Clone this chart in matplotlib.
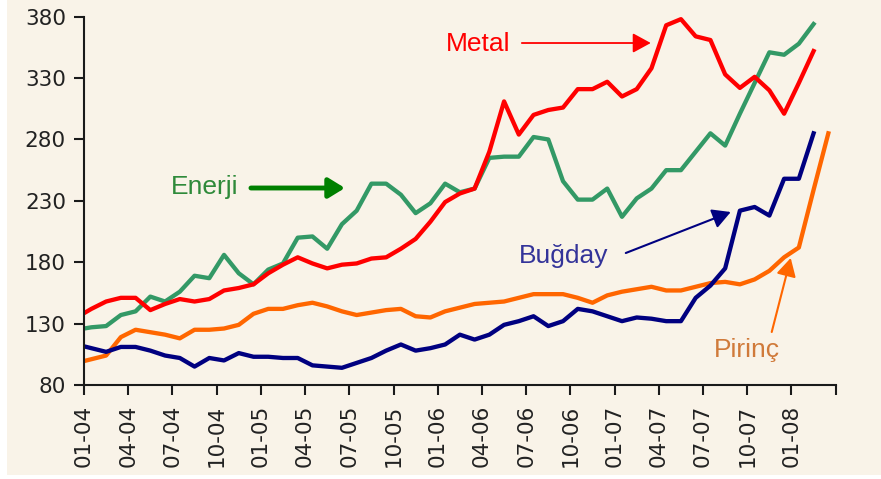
import numpy as np
import matplotlib
matplotlib.use("Agg")
import matplotlib.pyplot as plt
from matplotlib.patches import Rectangle

# monthly index values, Dec-03 ... Feb-08 (rice goes to Mar-08)
metal = [135, 142, 148, 151, 151, 141, 146, 150, 148, 150, 157, 159, 162, 171,
         178, 184, 179, 175, 178, 179, 183, 184, 191, 199, 213, 229, 236, 240,
         270, 311, 284, 300, 304, 306, 321, 321, 327, 315, 321, 338, 373, 378,
         364, 361, 333, 322, 331, 320, 301, 326, 352]
enerji = [125, 127, 128, 137, 140, 152, 148, 156, 169, 167, 186, 171, 162, 174,
          179, 200, 201, 191, 211, 222, 244, 244, 235, 220, 228, 244, 237, 240,
          265, 266, 266, 282, 280, 246, 231, 231, 240, 217, 232, 240, 255, 255,
          270, 285, 275, 301, 326, 351, 349, 358, 374]
bugday = [113, 110, 107, 111, 111, 108, 104, 102, 95, 102, 100, 106, 103, 103,
          102, 102, 96, 95, 94, 98, 102, 108, 113, 108, 110, 113, 121, 117,
          121, 129, 132, 136, 128, 132, 142, 140, 136, 132, 135, 134, 132, 132,
          151, 161, 175, 222, 225, 218, 248, 248, 285]
pirinc = [98, 101, 104, 119, 125, 123, 121, 118, 125, 125, 126, 129, 138, 142,
          142, 145, 147, 144, 140, 137, 139, 141, 142, 136, 135, 140, 143, 146,
          147, 148, 151, 154, 154, 154, 151, 147, 153, 156, 158, 160, 157, 157,
          160, 163, 164, 162, 166, 173, 184, 192, 239, 285]

tick_labels = ['01-04', '04-04', '07-04', '10-04', '01-05', '04-05', '07-05',
               '10-05', '01-06', '04-06', '07-06', '10-06', '01-07', '04-07',
               '07-07', '10-07', '01-08', '']

bg = '#f9f3e8'
fig = plt.figure(figsize=(8.81, 4.79), dpi=100, facecolor='white')
fig.patches.append(Rectangle((7 / 881, 4 / 479), 1, 1, transform=fig.transFigure,
                             facecolor=bg, edgecolor='none', zorder=-10))
ax = fig.add_axes([84 / 881, 1 - 385 / 479, 751.7 / 881, 368.3 / 479])
ax.set_facecolor(bg)

# points sit in the middle of each month, first one is Dec-03
def months(vals):
    return np.arange(len(vals)) - 0.5

ax.plot(months(pirinc), pirinc, color='#ff6600', lw=3.1, solid_joinstyle='round')
ax.plot(months(bugday), bugday, color='#000080', lw=3.1, solid_joinstyle='round')
ax.plot(months(enerji), enerji, color='#339966', lw=3.1, solid_joinstyle='round')
ax.plot(months(metal), metal, color='#ff0000', lw=3.1, solid_joinstyle='round')

ax.set_xlim(0, 3 * (len(tick_labels) - 1))
ax.set_ylim(80, 380)
ax.set_yticks(np.arange(80, 381, 50))
ax.set_xticks(np.arange(len(tick_labels)) * 3)
ax.set_xticklabels(tick_labels, rotation=90)

for s in ['top', 'right']:
    ax.spines[s].set_visible(False)
for s in ['left', 'bottom']:
    ax.spines[s].set_color('#1a1a1a')
    ax.spines[s].set_linewidth(1.5)
ax.tick_params(axis='both', direction='out', length=7, width=1.5,
               color='#1a1a1a', labelcolor='#222222', labelsize=15.5)
ax.tick_params(axis='y', pad=6)
ax.tick_params(axis='x', pad=7)

def px(x, y):
    # reference pixel position -> data coords
    return ((x - 84) / 14.745, 80 + (385 - y) / 1.2277)

lab = dict(family='Liberation Sans', fontsize=19, ha='center', va='center')
ax.text(*px(478, 44), 'Metal', color='#ff0000', **lab)
ax.annotate('', xy=px(651, 43), xytext=px(522, 43),
            arrowprops=dict(arrowstyle='-|>,head_length=0.55,head_width=0.3',
                            mutation_scale=20, color='#ff0000', lw=1.3,
                            shrinkA=0, shrinkB=0))
ax.text(*px(205, 187), 'Enerji', color='#2f8a3a', **lab)
ax.annotate('', xy=px(345, 188), xytext=px(251, 188),
            arrowprops=dict(arrowstyle='-|>,head_length=0.65,head_width=0.4',
                            mutation_scale=15, color='#008000', lw=3.5,
                            shrinkA=0, shrinkB=0))
ax.text(*px(564, 256), 'Buğday', color='#333399', **lab)
ax.annotate('', xy=px(731, 212), xytext=px(626, 253),
            arrowprops=dict(arrowstyle='-|>,head_length=0.55,head_width=0.3',
                            mutation_scale=20, color='#000080', lw=1.5,
                            shrinkA=0, shrinkB=0))
ax.text(*px(747, 350), 'Pirinç', color='#d07a3a', **lab)
ax.annotate('', xy=px(791, 258), xytext=px(772, 332),
            arrowprops=dict(arrowstyle='-|>,head_length=0.55,head_width=0.3',
                            mutation_scale=20, color='#ff6600', lw=1.5,
                            shrinkA=0, shrinkB=0))

fig.savefig('out.png', dpi=100, facecolor=fig.get_facecolor())
